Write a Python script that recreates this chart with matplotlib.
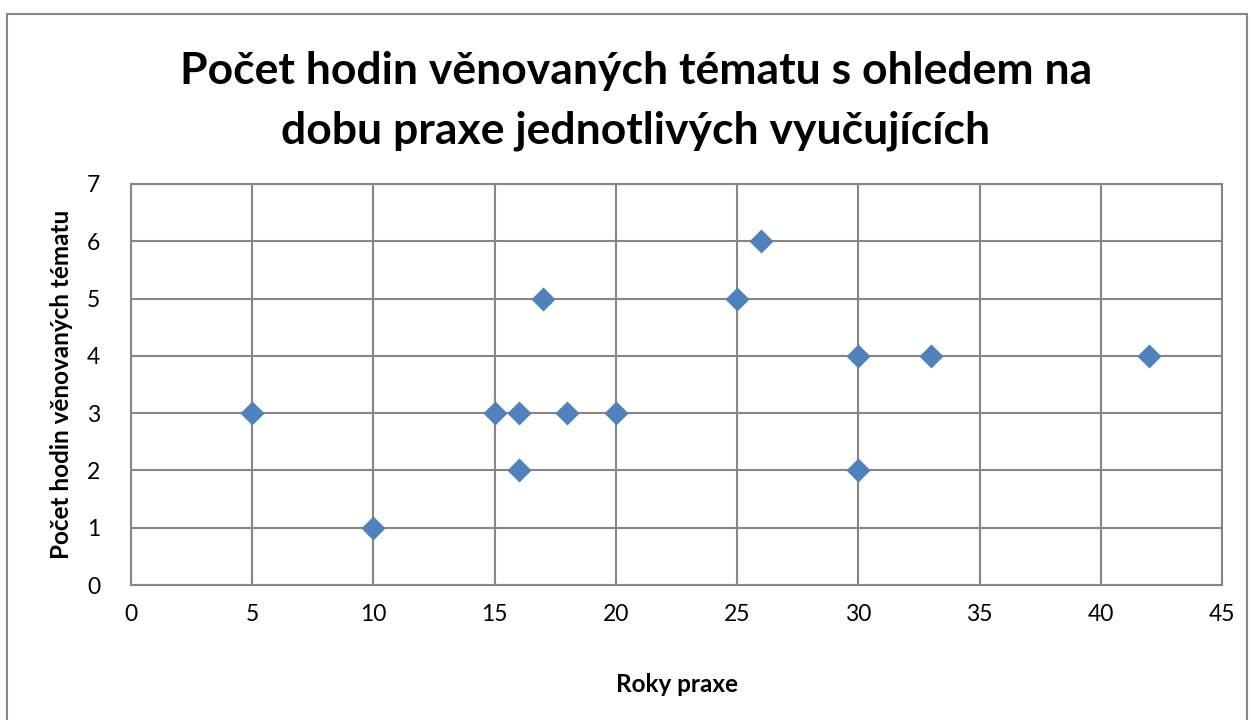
import matplotlib.pyplot as plt
from matplotlib.patches import Rectangle

roky = [5, 10, 15, 16, 16, 17, 18, 20, 25, 26, 30, 30, 33, 42]
hodiny = [3, 1, 3, 3, 2, 5, 3, 3, 5, 6, 4, 2, 4, 4]

plt.rcParams['font.family'] = ['Lato', 'DejaVu Sans']

fig = plt.figure(figsize=(12.54, 7.2), dpi=100)
# outer chart border
fig.patches.append(Rectangle((7 / 1254, -0.05), 1240 / 1254, 1.05 - 14 / 720,
                             transform=fig.transFigure, fill=False,
                             edgecolor='#868686', linewidth=1.5))

ax = fig.add_axes([131 / 1254, 1 - 585 / 720, 1091 / 1254, 401 / 720])
ax.scatter(roky, hodiny, marker='D', s=150, color='#4F81BD', zorder=3,
           linewidths=0)

ax.set_xlim(0, 45)
ax.set_ylim(0, 7)
ax.set_xticks(range(0, 46, 5))
ax.set_yticks(range(0, 8))
ax.grid(True, color='#868686', linewidth=1.5)
for sp in ax.spines.values():
    sp.set_color('#868686')
    sp.set_linewidth(1.5)
ax.tick_params(length=0, labelsize=16.5, pad=14)
ax.tick_params(axis='y', pad=22)

ax.set_xlabel('Roky praxe', fontsize=17.5, fontweight='bold', labelpad=34)
ax.set_ylabel('Počet hodin věnovaných tématu', fontsize=17.5,
              fontweight='bold', labelpad=10)

fig.text(0.507, 0.79, 'Počet hodin věnovaných tématu s ohledem na\n'
         'dobu praxe jednotlivých vyučujících', ha='center', va='bottom',
         fontsize=32, fontweight='bold', linespacing=1.6)

fig.savefig('out.png', dpi=100)
